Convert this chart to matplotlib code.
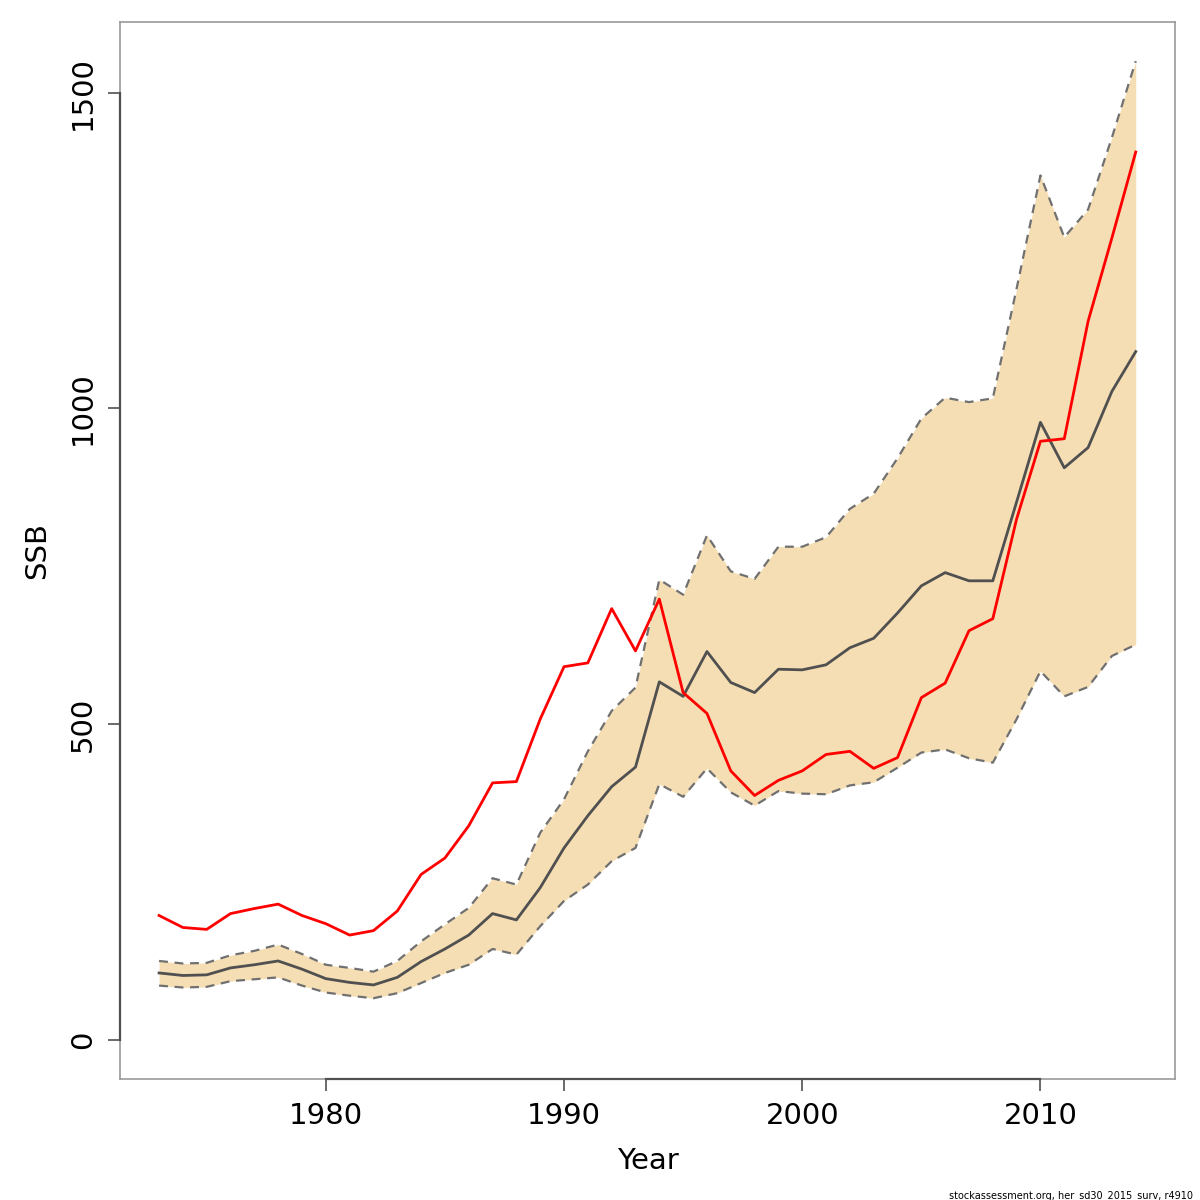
import matplotlib
matplotlib.use('Agg')
import matplotlib.pyplot as plt
import numpy as np

years = list(range(1973, 2015))

# SSB estimate (dark line) and confidence band
ssb = [106, 102, 103, 114, 119, 125, 112, 97, 91, 87, 99, 124, 144, 166, 200, 190,
       241, 304, 355, 401, 432, 567, 544, 615, 566, 550, 587, 586, 594, 621, 636,
       676, 719, 740, 727, 727, 852, 978, 906, 938, 1027, 1090]
upper = [125, 121, 122, 134, 141, 151, 136, 119, 114, 108, 125, 156, 183, 209, 256, 246,
         328, 381, 457, 521, 558, 729, 705, 799, 742, 730, 781, 781, 796, 841, 865,
         921, 984, 1017, 1010, 1016, 1190, 1369, 1271, 1315, 1429, 1550]
lower = [86, 83, 84, 93, 96, 99, 86, 75, 70, 66, 74, 90, 106, 119, 144, 135,
         180, 220, 246, 283, 304, 405, 385, 430, 392, 371, 394, 390, 389, 403, 408,
         431, 455, 460, 446, 439, 508, 584, 544, 559, 608, 626]
# survey-based SSB (red line)
survey = [197, 178, 175, 200, 208, 215, 197, 184, 166, 173, 204, 262, 288, 339, 407, 409,
          508, 591, 597, 683, 616, 698, 550, 517, 426, 387, 411, 426, 452, 457, 430,
          447, 542, 565, 648, 667, 825, 948, 952, 1138, 1270, 1406]

yticks = [0, 500, 1000, 1500]
xticks = [1980, 1990, 2000, 2010]
fs = 21

fig = plt.figure(figsize=(12, 12), dpi=100)
ax = fig.add_axes([0.1, 0.1008, 0.879, 0.8809])

ax.fill_between(years, lower, upper, color='#F5DEB3', linewidth=0, zorder=1)
ax.plot(years, upper, color='#707070', linestyle=(0, (4, 3)), linewidth=1.6, zorder=2)
ax.plot(years, lower, color='#707070', linestyle=(0, (4, 3)), linewidth=1.6, zorder=2)
ax.plot(years, ssb, color='#505050', linewidth=2.0, zorder=3)
ax.plot(years, survey, color='red', linewidth=2.0, zorder=4)

ax.set_xlim(1971.36, 2015.64)
ax.set_ylim(-62, 1612)

for s in ax.spines.values():
    s.set_color('#999999')
    s.set_linewidth(1.2)
# R style axis lines over the tick range
ax.plot([xticks[0], xticks[-1]], [-62, -62], color='#505050', linewidth=1.6, clip_on=False, zorder=5)
ax.plot([1971.36, 1971.36], [yticks[0], yticks[-1]], color='#505050', linewidth=1.6, clip_on=False, zorder=5)

ax.set_xticks(xticks)
ax.set_yticks(yticks)
ax.set_xticklabels([str(t) for t in xticks], fontsize=fs)
ax.set_yticklabels([str(t) for t in yticks], fontsize=fs, rotation=90, va='center')
ax.tick_params(axis='both', direction='out', length=8.5, width=1.2, color='#505050')
ax.tick_params(axis='x', pad=8)
ax.tick_params(axis='y', pad=8)

ax.set_xlabel('Year', fontsize=fs, labelpad=12)
ax.set_ylabel('SSB', fontsize=fs, labelpad=13)

fig.text(0.994, 0.0018, 'stockassessment.org, her_sd30_2015_surv, r4910',
         ha='right', va='baseline', fontsize=7)

plt.savefig('out.png', dpi=100)
